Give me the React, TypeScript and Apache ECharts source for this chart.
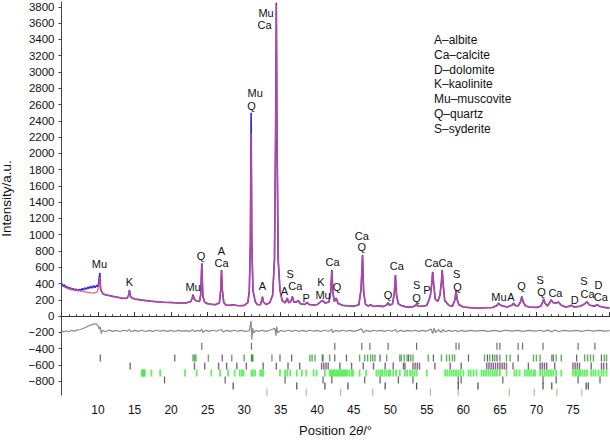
import React, { useEffect, useRef } from "react";
import * as echarts from "echarts";

// Observed profile vertices [2θ, intensity]
const observed: number[][] = [
  [5.0, 400], [5.2, 370], [5.4, 385], [5.6, 350], [5.8, 362], [6.0, 335], [6.2, 348], [6.4, 322], [6.6, 338],
  [6.8, 316], [7.0, 332], [7.2, 312], [7.4, 326], [7.6, 316], [7.8, 336], [8.0, 322], [8.2, 346], [8.4, 330],
  [8.6, 356], [8.8, 340], [9.0, 366], [9.2, 346], [9.4, 372], [9.6, 352], [9.8, 376], [10.0, 362], [10.1, 420],
  [10.25, 530], [10.35, 340], [10.5, 300], [10.7, 272], [11.0, 262], [11.5, 252], [12.0, 242], [12.5, 234],
  [13.0, 226], [13.5, 216], [14.0, 222], [14.2, 260], [14.3, 320], [14.45, 240], [14.7, 222], [15.0, 210],
  [16.0, 196], [17.0, 186], [18.0, 176], [19.0, 170], [20.0, 166], [21.0, 160], [22.0, 160], [22.7, 180],
  [22.9, 225], [23.0, 262], [23.2, 205], [23.5, 185], [23.9, 180], [24.05, 260], [24.2, 650], [24.35, 240],
  [24.6, 170], [25.0, 152], [25.5, 146], [26.0, 140], [26.6, 160], [26.8, 330], [26.9, 565], [27.0, 330],
  [27.2, 168], [27.5, 136], [28.0, 132], [28.5, 140], [29.0, 130], [29.5, 126], [30.0, 132], [30.5, 165],
  [30.7, 300], [30.85, 900], [30.95, 2500], [31.05, 900], [31.2, 320], [31.5, 180], [31.8, 142], [32.2, 140],
  [32.4, 190], [32.5, 240], [32.65, 170], [33.0, 142], [33.5, 165], [33.9, 260], [34.15, 700], [34.3, 2200],
  [34.4, 3850], [34.5, 2200], [34.65, 700], [34.9, 320], [35.2, 190], [35.6, 162], [35.8, 200], [35.9, 222],
  [36.1, 162], [36.4, 180], [36.6, 240], [36.8, 172], [37.2, 175], [37.4, 192], [37.7, 152], [38.3, 142],
  [38.6, 168], [38.9, 142], [39.5, 136], [40.0, 142], [40.4, 170], [40.7, 192], [41.1, 160], [41.6, 172],
  [41.85, 300], [42.0, 565], [42.15, 280], [42.35, 180], [42.6, 222], [42.85, 155], [43.5, 132], [44.0, 126],
  [45.0, 122], [45.7, 140], [46.0, 330], [46.2, 750], [46.35, 300], [46.6, 145], [47.0, 122], [47.3, 140],
  [47.6, 122], [48.0, 120], [48.5, 126], [49.0, 116], [49.5, 135], [49.7, 170], [49.9, 132], [50.3, 150],
  [50.55, 280], [50.7, 505], [50.85, 260], [51.1, 150], [51.5, 130], [52.0, 116], [52.5, 112], [53.0, 112],
  [53.4, 128], [53.6, 150], [53.8, 120], [54.5, 120], [55.0, 132], [55.3, 200], [55.5, 262], [55.7, 420],
  [55.8, 545], [55.95, 380], [56.15, 210], [56.5, 180], [56.8, 260], [57.0, 420], [57.1, 565], [57.25, 380],
  [57.45, 190], [58.0, 132], [58.5, 122], [58.85, 200], [59.0, 320], [59.15, 200], [59.4, 140], [60.0, 112],
  [61.0, 102], [62.0, 100], [63.0, 102], [64.0, 106], [64.6, 130], [64.8, 160], [65.0, 140], [65.3, 128],
  [66.0, 112], [66.7, 135], [66.9, 160], [67.1, 130], [67.5, 125], [67.8, 170], [68.0, 240], [68.2, 170],
  [68.5, 125], [69.0, 112], [70.0, 106], [70.6, 122], [70.85, 170], [71.0, 212], [71.15, 160], [71.5, 125],
  [71.8, 160], [72.0, 200], [72.3, 165], [72.7, 160], [73.0, 172], [73.4, 132], [74.0, 112], [74.6, 122],
  [74.8, 136], [75.1, 112], [76.0, 120], [76.6, 150], [76.9, 176], [77.3, 132], [78.0, 122], [78.3, 142],
  [78.6, 122], [79.0, 112], [79.5, 104], [80.0, 100],
];

// Calculated profile vertices [2θ, intensity]
const calculated: number[][] = [
  [5.0, 375], [5.5, 352], [6.0, 336], [6.5, 326], [7.0, 318], [7.5, 310], [8.0, 302], [8.5, 292], [9.0, 285],
  [9.5, 284], [9.9, 298], [10.1, 370], [10.25, 480], [10.35, 330], [10.5, 296], [10.7, 272], [11.0, 262],
  [11.5, 252], [12.0, 242], [12.5, 234], [13.0, 226], [13.5, 218], [14.0, 222], [14.2, 255], [14.3, 305],
  [14.45, 240], [14.7, 222], [15.0, 210], [16.0, 196], [17.0, 186], [18.0, 176], [19.0, 170], [20.0, 166],
  [21.0, 161], [22.0, 160], [22.7, 178], [22.9, 220], [23.0, 250], [23.2, 205], [23.5, 185], [23.9, 180],
  [24.05, 260], [24.2, 630], [24.35, 240], [24.6, 170], [25.0, 152], [25.5, 146], [26.0, 140], [26.6, 160],
  [26.8, 330], [26.9, 560], [27.0, 330], [27.2, 168], [27.5, 136], [28.0, 132], [28.5, 136], [29.0, 130],
  [29.5, 128], [30.0, 132], [30.5, 165], [30.7, 300], [30.85, 880], [30.95, 2250], [31.05, 880], [31.2, 320],
  [31.5, 180], [31.8, 142], [32.2, 140], [32.4, 185], [32.5, 232], [32.65, 170], [33.0, 142], [33.5, 165],
  [33.9, 260], [34.15, 700], [34.3, 2200], [34.4, 3830], [34.5, 2200], [34.65, 700], [34.9, 320], [35.2, 190],
  [35.6, 162], [35.8, 198], [35.9, 218], [36.1, 162], [36.4, 180], [36.6, 236], [36.8, 172], [37.2, 175],
  [37.4, 190], [37.7, 152], [38.3, 142], [38.6, 166], [38.9, 142], [39.5, 136], [40.0, 142], [40.4, 170],
  [40.7, 190], [41.1, 160], [41.6, 172], [41.85, 300], [42.0, 555], [42.15, 280], [42.35, 180], [42.6, 218],
  [42.85, 155], [43.5, 132], [44.0, 126], [45.0, 122], [45.7, 140], [46.0, 330], [46.2, 740], [46.35, 300],
  [46.6, 145], [47.0, 122], [47.3, 138], [47.6, 122], [48.0, 120], [48.5, 126], [49.0, 116], [49.5, 135],
  [49.7, 168], [49.9, 132], [50.3, 150], [50.55, 280], [50.7, 500], [50.85, 260], [51.1, 150], [51.5, 130],
  [52.0, 116], [52.5, 112], [53.0, 112], [53.4, 128], [53.6, 148], [53.8, 120], [54.5, 120], [55.0, 132],
  [55.3, 200], [55.5, 262], [55.7, 430], [55.8, 535], [55.95, 380], [56.15, 210], [56.5, 180], [56.8, 260],
  [57.0, 420], [57.1, 560], [57.25, 380], [57.45, 190], [58.0, 132], [58.5, 122], [58.85, 200], [59.0, 312],
  [59.15, 200], [59.4, 140], [60.0, 112], [61.0, 102], [62.0, 100], [63.0, 102], [64.0, 106], [64.6, 130],
  [64.8, 158], [65.0, 140], [65.3, 128], [66.0, 112], [66.7, 135], [66.9, 158], [67.1, 130], [67.5, 125],
  [67.8, 170], [68.0, 236], [68.2, 170], [68.5, 125], [69.0, 112], [70.0, 106], [70.6, 122], [70.85, 170],
  [71.0, 208], [71.15, 160], [71.5, 125], [71.8, 160], [72.0, 198], [72.3, 165], [72.7, 160], [73.0, 170],
  [73.4, 132], [74.0, 112], [74.6, 122], [74.8, 134], [75.1, 112], [76.0, 120], [76.6, 150], [76.9, 174],
  [77.3, 132], [78.0, 122], [78.3, 140], [78.6, 122], [79.0, 112], [79.5, 104], [80.0, 100],
];

// Difference curve (observed − calculated, offset)
const difference: number[][] = [
  [5.0, -175], [5.3, -195], [5.6, -180], [6.0, -192], [6.4, -175], [6.8, -185], [7.2, -170], [7.6, -165],
  [8.0, -150], [8.3, -140], [8.6, -125], [8.9, -115], [9.2, -105], [9.5, -95], [9.8, -100], [10.0, -120],
  [10.15, -160], [10.3, -130], [10.45, -215], [10.6, -175], [11.0, -192], [11.5, -172], [12.0, -188],
  [12.5, -176], [13.0, -190], [13.5, -174], [14.0, -184], [14.3, -165], [14.5, -192], [15.0, -176],
  [15.5, -188], [16.0, -174], [16.5, -190], [17.0, -176], [17.5, -188], [18.0, -174], [18.5, -186],
  [19.0, -176], [19.5, -188], [20.0, -176], [20.5, -190], [21.0, -176], [21.5, -186], [22.0, -178],
  [22.5, -188], [23.0, -168], [23.2, -192], [23.6, -176], [24.0, -184], [24.2, -160], [24.35, -202],
  [24.7, -176], [25.2, -188], [25.7, -174], [26.2, -186], [26.9, -165], [27.1, -196], [27.6, -176],
  [28.1, -188], [28.6, -174], [29.1, -186], [29.6, -176], [30.1, -188], [30.7, -180], [30.85, -110],
  [30.95, -60], [31.05, -290], [31.15, -150], [31.3, -205], [31.6, -176], [32.0, -188], [32.5, -174],
  [33.0, -188], [33.5, -174], [34.2, -150], [34.35, -240], [34.45, -130], [34.6, -205], [35.0, -176],
  [35.5, -190], [36.0, -174], [36.5, -188], [37.0, -174], [37.5, -188], [38.0, -176], [38.5, -188],
  [39.0, -174], [39.5, -186], [40.0, -176], [40.5, -190], [41.0, -174], [41.5, -186], [42.0, -162],
  [42.1, -202], [42.5, -176], [43.0, -188], [43.5, -174], [44.0, -186], [44.5, -176], [45.0, -188],
  [45.5, -176], [46.1, -158], [46.3, -202], [46.7, -176], [47.2, -188], [47.7, -174], [48.2, -186],
  [48.7, -176], [49.2, -188], [49.7, -174], [50.2, -186], [50.7, -165], [50.9, -196], [51.4, -176],
  [51.9, -188], [52.4, -176], [52.9, -186], [53.4, -174], [53.9, -188], [54.4, -176], [54.9, -186],
  [55.3, -172], [55.6, -160], [55.8, -215], [56.0, -150], [56.2, -202], [56.6, -168], [57.0, -202],
  [57.2, -165], [57.5, -192], [58.0, -176], [58.5, -188], [59.0, -174], [59.2, -192], [59.7, -176],
  [60.2, -188], [61.0, -176], [61.8, -186], [62.6, -176], [63.4, -188], [64.2, -176], [65.0, -188],
  [65.8, -174], [66.6, -186], [67.4, -176], [68.2, -188], [69.0, -176], [69.8, -186], [70.6, -174],
  [71.0, -190], [71.6, -170], [72.0, -192], [72.6, -172], [73.0, -190], [73.8, -176], [74.6, -186],
  [75.4, -176], [76.2, -188], [77.0, -174], [77.8, -186], [78.6, -176], [79.4, -186], [80.0, -180],
];

// Peak annotations [2θ, intensity, text]
const peakLabels: (number | string)[][] = [
  [10.2, 640, "Mu"], [14.3, 420, "K"], [23.0, 357, "Mu"], [24.1, 740, "Q"], [26.9, 800, "A"], [26.9, 650, "Ca"],
  [31.5, 2745, "Mu"], [31.0, 2580, "Q"], [33.0, 3720, "Mu"], [32.8, 3580, "Ca"], [32.5, 370, "A"],
  [35.5, 307, "A"], [36.3, 517, "S"], [37.0, 370, "Ca"], [38.5, 225, "P"], [40.5, 422, "K"], [40.8, 258, "Mu"],
  [42.1, 660, "Ca"], [42.7, 360, "Q"], [46.1, 984, "Ca"], [46.1, 845, "Q"], [49.7, 258, "Q"], [50.9, 615, "Ca"],
  [53.6, 381, "S"], [53.6, 225, "Q"], [55.0, 320, "P"], [55.65, 656, "Ca"], [57.55, 656, "Ca"], [59.07, 517, "S"],
  [59.2, 360, "Q"], [64.86, 230, "Mu"], [66.5, 230, "A"], [67.96, 373, "Q"], [70.5, 443, "S"], [70.7, 300, "Q"],
  [72.6, 287, "Ca"], [75.25, 197, "D"], [76.5, 430, "S"], [77.0, 270, "Ca"], [78.5, 381, "D"], [78.8, 230, "Ca"],
];

const phaseKey: string[] = [
  "A–albite", "Ca–calcite", "D–dolomite", "K–kaolinite", "Mu–muscovite", "Q–quartz", "S–syderite",
];

// Reflection marker rows (2θ positions)
const row1Ticks = [24.2, 31.0, 42.4, 46.1, 47.2, 49.7, 53.6, 59.0, 59.4, 64.6, 65.0, 67.5, 68.1, 70.9, 75.7, 78.0];
const row2Dark = [10.3, 20.5, 27.0, 31.0, 34.9, 36.5, 40.7, 42.4, 44.0, 48.6, 52.5, 55.9, 60.7, 63.3, 64.0, 64.6,
  67.5, 72.3, 75.5, 78.9];
const row2Green = [23.0, 23.2, 23.4, 25.1, 28.3, 30.0, 31.1, 31.2, 33.8, 39.0, 39.3, 39.7, 40.8, 41.7, 45.8, 46.5,
  46.9, 47.3, 47.6, 47.9, 49.5, 51.3, 51.5, 51.9, 52.3, 52.8, 53.1, 55.2, 57.0, 57.7, 58.1, 58.5, 58.8, 62.9, 63.6,
  64.3, 65.0, 65.9, 66.4, 69.6, 70.0, 70.5, 72.1, 72.7, 73.4, 76.6, 77.0, 77.4, 77.8, 79.3, 79.6];
const row3Ticks = [14.4, 23.2, 24.6, 26.5, 27.6, 29.0, 30.3, 32.6, 34.4, 36.0, 37.6, 40.6, 40.9, 41.2, 41.5, 43.1,
  44.7, 46.3, 47.7, 49.3, 50.4, 51.8, 52.0, 53.1, 53.4, 53.7, 54.0, 56.1, 58.2, 59.7, 63.2, 63.5, 63.8, 64.1, 64.4,
  64.7, 65.0, 65.3, 65.6, 65.9, 66.8, 68.9, 70.5, 70.8, 71.1, 71.4, 72.5, 75.0, 75.3, 75.6, 75.9, 77.5, 78.9, 79.2, 79.6];
const row4Ticks = [16.0, 16.1, 16.2, 16.3, 16.4, 17.3, 18.5, 21.9, 23.5, 25.5, 26.7, 27.8, 28.7, 29.4, 29.7, 29.9,
  31.0, 31.2, 31.5, 32.2, 32.4, 32.6, 34.9, 35.6, 35.9, 36.3, 37.2, 37.9, 38.5, 39.5, 39.9, 41.05, 41.7, 41.9, 42.1,
  42.3, 42.5, 42.7, 42.9, 43.1, 43.3, 43.5, 43.7, 43.9, 44.1, 44.4, 44.7, 44.9, 45.8, 46.7, 48.1, 48.4, 48.7, 48.9,
  49.2, 49.5, 49.8, 50.0, 50.4, 50.8, 51.3, 52.0, 52.3, 52.7, 53.0, 53.3, 53.6, 55.0, 57.5, 57.8, 58.1, 58.4, 58.7,
  59.0, 59.3, 59.6, 60.0, 60.7, 61.0, 61.4, 61.8, 62.5, 62.8, 63.1, 63.4, 63.7, 64.0, 64.3, 64.6, 65.0, 65.9, 67.0,
  67.3, 67.7, 68.4, 68.7, 69.0, 69.3, 69.6, 69.8, 70.5, 70.8, 71.1, 71.4, 71.7, 72.0, 72.3, 72.7, 73.4, 75.0, 75.3,
  75.5, 75.8, 76.0, 76.3, 76.6, 76.9, 77.5, 77.8, 78.1, 78.5, 78.9, 79.2, 79.6];
const row5Ticks = [19.1, 27.4, 35.6, 40.8, 42.0, 46.5, 48.6, 51.1, 53.1, 59.3, 59.7, 65.4, 70.9, 72.7, 75.7, 78.7];
const row6Ticks = [28.5, 37.2, 41.05, 44.2, 49.3, 53.6, 59.3, 62.0, 70.9, 72.1, 76.8, 77.1];
const row7Ticks = [33.1, 38.5, 43.2, 47.6, 55.5, 59.3, 66.3, 69.7, 72.8, 76.2];

const yTickValues = [-800, -600, -400, -200, 0, 200, 400, 600, 800, 1000, 1200, 1400, 1600, 1800, 2000, 2200,
  2400, 2600, 2800, 3000, 3200, 3400, 3600, 3800];

const FONT = "'Liberation Sans', Arial, Helvetica, sans-serif";

function tickRow(name: string, xs: number[], level: number, color: string, w: number) {
  return {
    name,
    type: "scatter",
    symbol: "rect",
    symbolSize: [w, 7],
    silent: true,
    z: 3,
    itemStyle: { color },
    data: xs.map((x) => [x, level]),
  };
}

export default function App() {
  const ref = useRef<HTMLDivElement>(null);
  useEffect(() => {
    document.body.style.margin = "0";
    if (!ref.current) return;
    const chart = echarts.init(ref.current, undefined, { renderer: "svg" });
    chart.setOption({
      animation: false,
      backgroundColor: "#ffffff",
      textStyle: { fontFamily: FONT },
      grid: { left: 61.5, right: 0.5, top: 2, bottom: 45, containLabel: false, outerBoundsMode: "none" },
      xAxis: {
        type: "value",
        min: 5,
        max: 80,
        interval: 5,
        name: "Position 2{i|θ}/°",
        nameLocation: "middle",
        nameGap: 29,
        nameTextStyle: {
          fontSize: 13,
          color: "#111",
          fontFamily: FONT,
          rich: { i: { fontStyle: "italic", fontSize: 13, color: "#111", fontFamily: FONT } },
        },
        axisLine: { lineStyle: { color: "#333", width: 1 } },
        axisTick: { inside: true, length: 4, lineStyle: { color: "#333" } },
        minorTick: { show: true, splitNumber: 5, length: 2, lineStyle: { color: "#555" } },
        splitLine: { show: false },
        axisLabel: {
          showMinLabel: false,
          showMaxLabel: false,
          fontSize: 12,
          color: "#111",
          margin: 9,
          fontFamily: FONT,
        },
      },
      yAxis: {
        type: "value",
        min: -970,
        max: 3860,
        name: "Intensity/a.u.",
        nameLocation: "middle",
        nameGap: 48,
        nameTextStyle: { fontSize: 13.5, color: "#111", fontFamily: FONT },
        axisLine: { show: true, lineStyle: { color: "#444", width: 1 } },
        axisTick: { show: true, length: 3, customValues: yTickValues, lineStyle: { color: "#444" } },
        splitLine: { show: false },
        axisLabel: {
          customValues: yTickValues,
          formatter: (v: number) => String(v).replace("-", "−"),
          fontSize: 11.5,
          color: "#111",
          margin: 7,
          fontFamily: FONT,
        },
      },
      graphic: [
        {
          type: "text",
          left: 434,
          top: 33,
          style: {
            text: phaseKey.join("\n"),
            fontSize: 12,
            lineHeight: 14.7,
            fill: "#111",
            fontFamily: FONT,
          },
        },
      ],
      series: [
        {
          name: "difference",
          type: "line",
          showSymbol: false,
          silent: true,
          lineStyle: { color: "#8a8a8a", width: 1.2 },
          data: difference,
          z: 2,
        },
        {
          name: "observed",
          type: "line",
          showSymbol: false,
          silent: true,
          lineStyle: { color: "#2a2ad6", width: 1.6 },
          data: observed,
          z: 2,
        },
        {
          name: "calculated",
          type: "line",
          showSymbol: false,
          silent: true,
          lineStyle: { color: "#de4a8e", width: 1.4, opacity: 0.82 },
          data: calculated,
          z: 3,
        },
        tickRow("row1", row1Ticks, -370, "#4a4a4a", 1.2),
        tickRow("row2d", row2Dark, -515, "#3a3a3a", 1.2),
        tickRow("row2g", row2Green, -515, "#3a9a3a", 1.4),
        tickRow("row3", row3Ticks, -615, "#6a3a6a", 1.4),
        tickRow("row4", row4Ticks, -700, "#3cee3c", 1.8),
        tickRow("row5", row5Ticks, -785, "#3a3a3a", 1.2),
        tickRow("row6", row6Ticks, -860, "#2a2a2a", 1.3),
        tickRow("row7", row7Ticks, -935, "#a8a878", 1.2),
        {
          name: "labels",
          type: "custom",
          silent: true,
          z: 5,
          data: peakLabels.map((d) => [d[0], d[1]]),
          renderItem: (params: any, api: any) => {
            const pt = api.coord([api.value(0), api.value(1)]);
            return {
              type: "text",
              x: pt[0],
              y: pt[1],
              style: {
                text: String(peakLabels[params.dataIndex][2]),
                fill: "#111111",
                fontSize: 11,
                fontFamily: FONT,
                align: "center",
                verticalAlign: "middle",
              },
            };
          },
        },
      ],
    });
    return () => chart.dispose();
  }, []);
  return <div ref={ref} style={{ width: 610, height: 440 }} />;
}
